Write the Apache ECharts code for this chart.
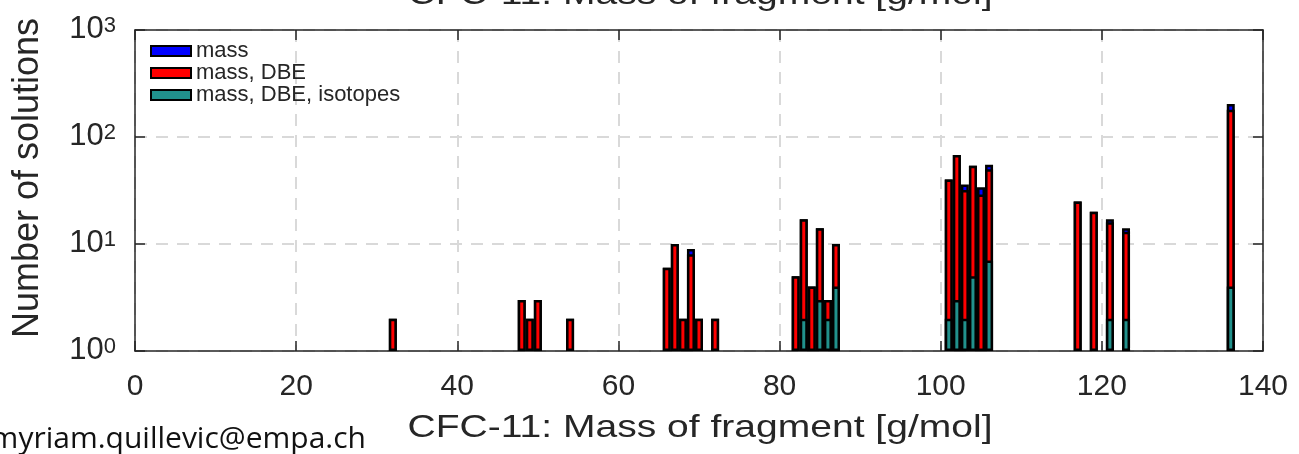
<!DOCTYPE html>
<html>
<head>
<meta charset="utf-8">
<script src="https://cdn.jsdelivr.net/npm/echarts@6/dist/echarts.min.js"></script>
<style>
html,body{margin:0;padding:0;background:#fff;}
#chart{width:1299px;height:454px;}
</style>
</head>
<body>
<div id="chart"></div>
<script>
// ---- data ----
const titleText = 'CFC-11: Mass of fragment [g/mol]';
const xAxisTitle = 'CFC-11: Mass of fragment [g/mol]';
const yAxisTitle = 'Number of solutions';
const credit = 'myriam.quillevic@empa.ch';
const seriesNames = ['mass', 'mass, DBE', 'mass, DBE, isotopes'];
const xTicks = [0, 20, 40, 60, 80, 100, 120, 140];
const yTicks = [1, 10, 100, 1000];

const massCategories = [32, 48, 49, 50, 54, 66, 67, 68, 69, 70, 72, 82, 83, 84, 85, 86, 87, 101, 102, 103, 104, 105, 106, 117, 119, 121, 123, 136];
const massValues     = [2, 3, 2, 3, 2, 6, 10, 2, 9, 2, 2, 5, 17, 4, 14, 3, 10, 40, 68, 36, 54, 34, 55, 25, 20, 17, 14, 203];
const dbeValues      = [2, 3, 2, 3, 2, 6, 10, 2, 8, 2, 2, 5, 17, 4, 14, 3, 10, 40, 68, 32, 54, 29, 50, 25, 20, 16, 13, 180];
const isoCategories  = [83, 85, 86, 87, 101, 102, 103, 104, 106, 121, 123, 136];
const isoValues      = [2, 3, 2, 4, 2, 3, 2, 5, 7, 2, 2, 4];

// ---- chart ----
const FONT = 'Liberation Sans';
const DARK = '#262626';
const chart = echarts.init(document.getElementById('chart'), null, {renderer: 'canvas'});

function pairs(xs, ys) { return xs.map((x, i) => [x, ys[i]]); }

const barCommon = {
  type: 'bar',
  barWidth: 8,
  barGap: '-100%',
  xAxisIndex: 0,
  yAxisIndex: 0,
  animation: false
};
const colors = ['#0000ff', '#ff0000', '#21918c'];
const dataSets = [pairs(massCategories, massValues), pairs(massCategories, dbeValues), pairs(isoCategories, isoValues)];

const series = seriesNames.map((name, i) => Object.assign({}, barCommon, {
  name: name,
  data: dataSets[i],
  itemStyle: {color: colors[i], borderColor: '#000', borderWidth: 2.5},
  z: 2 + i
}));

const grid = {left: 135, right: 36, top: 30, bottom: 103, containLabel: false};

const option = {
  animation: false,
  backgroundColor: '#fff',
  grid: grid,
  legend: {
    data: seriesNames,
    orient: 'vertical',
    left: 145,
    top: 35,
    itemWidth: 40,
    itemHeight: 10,
    itemGap: 0,
    icon: 'rect',
    itemStyle: {borderColor: '#000', borderWidth: 2},
    textStyle: {fontFamily: FONT, fontSize: 22, color: DARK, lineHeight: 19},
    selectedMode: false
  },
  xAxis: [{
    type: 'value',
    min: xTicks[0],
    max: xTicks[xTicks.length - 1],
    interval: 20,
    position: 'bottom',
    axisLine: {show: true, onZero: false, lineStyle: {color: DARK, width: 1.5}},
    axisTick: {show: true, inside: true, length: 10, lineStyle: {color: DARK, width: 1.5}},
    axisLabel: {fontFamily: FONT, fontSize: 30, color: DARK, margin: 21},
    splitLine: {show: true, lineStyle: {color: '#d9d9d9', width: 2, type: [12, 9]}}
  }, {
    type: 'value',
    min: xTicks[0],
    max: xTicks[xTicks.length - 1],
    interval: 20,
    position: 'top',
    axisLine: {show: true, onZero: false, lineStyle: {color: DARK, width: 1.5}},
    axisTick: {show: true, inside: true, length: 10, lineStyle: {color: DARK, width: 1.5}},
    axisLabel: {show: false},
    splitLine: {show: false}
  }],
  yAxis: [{
    type: 'log',
    logBase: 10,
    min: yTicks[0],
    max: yTicks[yTicks.length - 1],
    position: 'left',
    axisLine: {show: true, onZero: false, lineStyle: {color: DARK, width: 1.5}},
    axisTick: {show: true, inside: true, length: 10, lineStyle: {color: DARK, width: 1.5}},
    minorTick: {show: false},
    axisLabel: {
      margin: 19,
      formatter: v => '{b|10}{s|' + Math.round(Math.log10(v)) + '}',
      rich: {
        b: {fontFamily: FONT, fontSize: 31, color: DARK, lineHeight: 30, padding: [8, 0, 0, 0], verticalAlign: 'bottom'},
        s: {fontFamily: FONT, fontSize: 22, color: DARK, lineHeight: 22, verticalAlign: 'top'}
      }
    },
    splitLine: {show: true, lineStyle: {color: '#d9d9d9', width: 2, type: [12, 9]}}
  }, {
    type: 'log',
    logBase: 10,
    min: yTicks[0],
    max: yTicks[yTicks.length - 1],
    position: 'right',
    axisLine: {show: true, onZero: false, lineStyle: {color: DARK, width: 1.5}},
    axisTick: {show: true, inside: true, length: 10, lineStyle: {color: DARK, width: 1.5}},
    axisLabel: {show: false},
    splitLine: {show: false}
  }],
  graphic: [{
    type: 'text', x: 700, y: -5, scaleX: 1.22, z: 10,
    style: {text: titleText, x: 0, y: 0, textAlign: 'center', textVerticalAlign: 'middle', font: '32px "Liberation Sans"', fill: DARK}
  }, {
    type: 'text', x: 700, y: 428, scaleX: 1.22, z: 10,
    style: {text: xAxisTitle, x: 0, y: 0, textAlign: 'center', textVerticalAlign: 'middle', font: '32px "Liberation Sans"', fill: DARK}
  }, {
    type: 'text', x: 28, y: 178, rotation: Math.PI / 2, z: 10,
    style: {text: yAxisTitle, x: 0, y: 0, textAlign: 'center', textVerticalAlign: 'middle', font: '36px "Liberation Sans"', fill: DARK}
  }, {
    type: 'text', x: 366, y: 439, z: 10,
    style: {text: credit, x: 0, y: 0, textAlign: 'right', textVerticalAlign: 'middle', font: '30px "Open Sans"', fill: '#111'}
  }],
  series: series
};
chart.setOption(option);
</script>
</body>
</html>
